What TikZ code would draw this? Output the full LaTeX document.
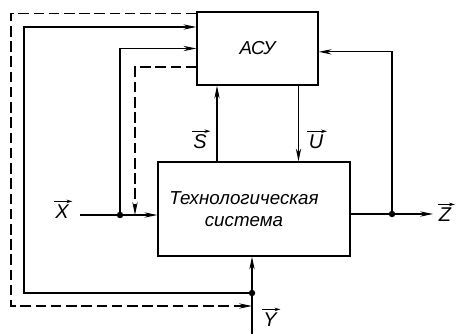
\documentclass[tikz,border=0pt]{standalone}
\usepackage{fontspec}
\setmainfont{Liberation Sans}
\usetikzlibrary{arrows.meta,positioning,calc}

\begin{document}
\begin{tikzpicture}[x=0.03cm, y=-0.03cm,
  blk/.style={rectangle, draw, line width=1.1pt, align=center, font=\itshape\fontsize{16}{19}\selectfont},
  txt/.style={align=center, font=\itshape\fontsize{16}{19}\selectfont},
  arr/.style={-{Stealth[length=11pt,width=4.5pt]}, line width=1pt},
  varr/.style={-{Stealth[length=5pt,width=3pt]}, line width=0.8pt},
  ln/.style={line width=1pt},
  dsh/.style={dash pattern=on 9pt off 4pt},
  dot/.style={circle, fill, inner sep=0pt, minimum size=5.5pt},
  lbl/.style={font=\itshape\fontsize{17}{19}\selectfont, inner sep=1pt}
]
  \useasboundingbox (0,0) rectangle (456,335);
  \node[blk, minimum width=3.63cm, minimum height=2.19cm] (asu) at (257.5,48.5) {АСУ};
  \node[blk, minimum width=5.76cm, minimum height=2.82cm] (tech) at (254,209) {};
  \node[txt] (techtxt) at (244,209) {Технологическая\\система};
  % inputs and outputs
  \coordinate (xin) at (80,215);
  \coordinate (zout) at (433,214);
  \coordinate (yin) at (252,334);
  \node[dot] (xd) at (120,215) {};
  \node[dot] (zd) at (392,214) {};
  \node[dot] (yd) at (252,293) {};
  \draw[ln] (xin) -- (xd);
  \draw[arr] (xd) -- (xd -| tech.west);
  \draw[ln] (tech.east |- zd) -- (zd);
  \draw[arr] (zd) -- (zout);
  \draw[arr] (yin) -- (yin |- tech.south);
  % S and U
  \draw[arr] ([xshift=-1.11cm]tech.north) -- ([xshift=-1.11cm]tech.north |- asu.south);
  \draw[arr] ([xshift=1.23cm]asu.south) -- ([xshift=1.23cm]asu.south |- tech.north);
  % feedback to ASU
  \coordinate (c1) at (24,27);
  \coordinate (c2) at (135,215);
  \coordinate (c3) at (11,306);
  \draw[arr] (xd) |- (asu.west);
  \draw[arr] (zd) |- ([yshift=-0.1cm]asu.east);
  \draw[arr] (yd) -| (c1) -- (c1 -| asu.west);
  \draw[arr, dsh] ([yshift=-0.555cm]asu.west) -| (c2);
  \draw[arr, dsh] ([yshift=-0.06cm]asu.north west) -| (c3) -- (c3 -| yin);
  % vector labels
  \node[lbl] (xl) at (62,212) {X};
  \node[lbl] (zl) at (445,215) {Z};
  \node[lbl] (yl) at (270,320) {Y};
  \node[lbl] (sl) at (200,142) {S};
  \node[lbl] (ul) at (316,142) {U};
  \foreach \l in {xl,zl,yl,sl,ul}{\draw[varr] ([yshift=2pt]\l.north west) -- ([xshift=2pt,yshift=2pt]\l.north east);}
\end{tikzpicture}
\end{document}
